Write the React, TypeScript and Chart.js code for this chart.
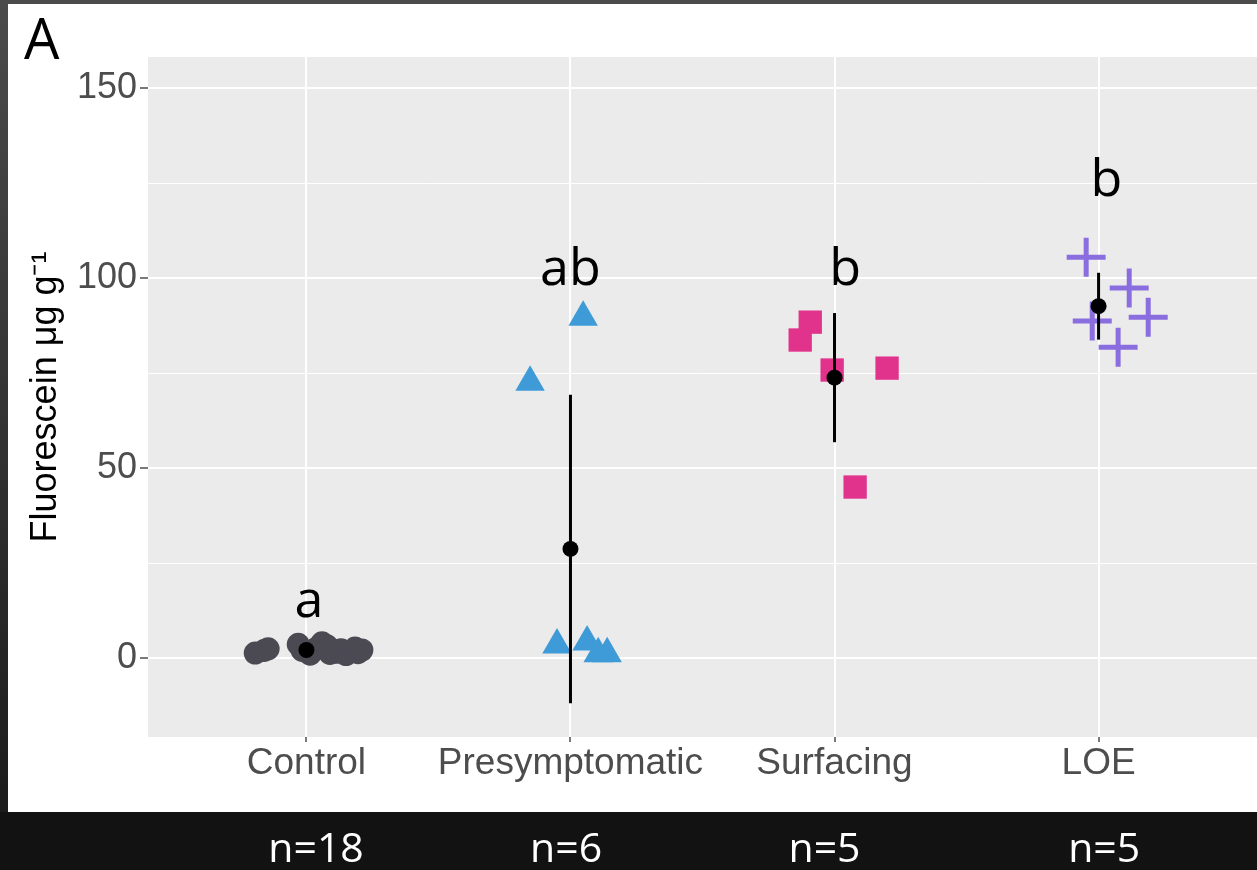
import React, { useEffect, useRef } from "react";
import { Chart, registerables } from "chart.js";

Chart.register(...registerables);

// ---------- DATA ----------
const categories = ["Control", "Presymptomatic", "Surfacing", "LOE"];

// x positions are jittered positions in category units (1..4)
const controlX = [0.806, 0.840, 0.855, 0.969, 0.984, 1.014, 1.036, 1.059, 1.078, 1.089, 1.112, 1.131, 1.150, 1.165, 1.184, 1.195, 1.210, 0.998];
const controlY = [1.3, 2.0, 2.4, 3.6, 2.0, 1.0, 2.5, 4.0, 3.2, 1.2, 1.5, 2.2, 0.9, 1.8, 2.6, 1.4, 2.1, 1.8];

const presymX = [2.048, 1.847, 1.949, 2.063, 2.105, 2.139];
const presymY = [89.7, 72.6, 3.4, 4.2, 1.1, 1.1];

const surfacingX = [2.908, 2.870, 2.991, 3.199, 3.078];
const surfacingY = [88.4, 83.7, 75.8, 76.3, 45.0];

const loeX = [3.953, 4.116, 4.188, 3.976, 4.074];
const loeY = [105.5, 97.4, 89.7, 88.7, 81.8];

const groupMeans = [2.1, 28.7, 73.8, 92.6];
const groupSD = [0.9, 40.6, 17.0, 8.8];

const sigLetters = ["a", "ab", "b", "b"];
const sigLetterX = [1.01, 2.0, 3.04, 4.03];
const sigLetterY = [10.8, 98.2, 98.2, 121.6];

const sampleSizes = ["n=18", "n=6", "n=5", "n=5"];

const yTickValues = [0, 25, 50, 75, 100, 125, 150];
const yMajorTicks = [0, 50, 100, 150];
const xTickValues = [1, 2, 3, 4];

// ---------- STYLE / LAYOUT ----------
const W = 1257;
const H = 870;
const N_LABEL_DX = [9.6, -4.4, -10, 5.6];
const TICK_GRAY = "#4d4d4d";

const toPts = (xs: number[], ys: number[]) => xs.map((x, i) => ({ x, y: ys[i] }));

const framePlugin = {
  id: "frame",
  beforeDraw(chart: any) {
    const { ctx, chartArea } = chart;
    ctx.save();
    ctx.fillStyle = "#121212";
    ctx.fillRect(0, 0, W, H);
    ctx.fillStyle = "#4b4b4b";
    ctx.fillRect(0, 0, W, 4);
    const g = ctx.createLinearGradient(0, 0, 0, 812);
    g.addColorStop(0, "#4b4b4b");
    g.addColorStop(1, "#1c1c1c");
    ctx.fillStyle = g;
    ctx.fillRect(0, 0, 8, 812);
    ctx.fillStyle = "#ffffff";
    ctx.fillRect(8, 4, W - 8, 808);
    ctx.fillStyle = "#ebebeb";
    ctx.fillRect(chartArea.left, chartArea.top, chartArea.right - chartArea.left, chartArea.bottom - chartArea.top);
    ctx.restore();
  },
  afterDatasetsDraw(chart: any) {
    const { ctx, scales } = chart;
    const xs = scales.x;
    const ys = scales.y;
    ctx.save();
    ctx.fillStyle = "#000000";
    ctx.font = "52px 'Open Sans'";
    ctx.textAlign = "center";
    ctx.textBaseline = "alphabetic";
    sigLetters.forEach((t, i) => {
      ctx.fillText(t, xs.getPixelForValue(sigLetterX[i]), ys.getPixelForValue(sigLetterY[i]));
    });
    ctx.restore();
  },
  afterDraw(chart: any) {
    const { ctx, scales } = chart;
    const xs = scales.x;
    ctx.save();
    // panel tag
    ctx.fillStyle = "#000000";
    ctx.font = "56px 'Open Sans'";
    ctx.textAlign = "left";
    ctx.textBaseline = "alphabetic";
    ctx.fillText("A", 24, 59);
    // sample sizes
    ctx.fillStyle = "#ffffff";
    ctx.font = "41px 'Open Sans'";
    ctx.textAlign = "center";
    sampleSizes.forEach((t, i) => {
      ctx.fillText(t, xs.getPixelForValue(xTickValues[i]) + N_LABEL_DX[i], 862);
    });
    ctx.restore();
  },
};

export default function App() {
  const canvasRef = useRef<HTMLCanvasElement | null>(null);

  useEffect(() => {
    const canvas = canvasRef.current;
    if (!canvas) return;

    const errorBarSets = categories.map((c, i) => ({
      type: "line" as const,
      label: "sd " + c,
      data: [
        { x: xTickValues[i], y: groupMeans[i] - groupSD[i] },
        { x: xTickValues[i], y: groupMeans[i] + groupSD[i] },
      ],
      showLine: true,
      borderColor: "#000000",
      borderWidth: 3,
      pointRadius: 0,
      order: 1,
    }));

    const chart = new Chart(canvas, {
      type: "scatter",
      data: {
        datasets: [
          {
            label: "mean",
            data: toPts(xTickValues, groupMeans),
            pointStyle: "circle",
            pointRadius: 8,
            backgroundColor: "#000000",
            borderWidth: 0,
            order: 0,
          },
          ...errorBarSets,
          {
            label: categories[0],
            data: toPts(controlX, controlY),
            pointStyle: "circle",
            pointRadius: 11.5,
            backgroundColor: "#4b4a53",
            borderWidth: 0,
            order: 2,
          },
          {
            label: categories[1],
            data: toPts(presymX, presymY),
            pointStyle: "triangle",
            pointRadius: 17,
            backgroundColor: "#3f9bd8",
            borderWidth: 0,
            order: 2,
          },
          {
            label: categories[2],
            data: toPts(surfacingX, surfacingY),
            pointStyle: "rect",
            pointRadius: 16.5,
            backgroundColor: "#e1338c",
            borderWidth: 0,
            order: 2,
          },
          {
            label: categories[3],
            data: toPts(loeX, loeY),
            pointStyle: "cross",
            pointRadius: 19.5,
            borderColor: "#8a6ee0",
            backgroundColor: "#8a6ee0",
            borderWidth: 5,
            order: 2,
          },
        ] as any,
      },
      options: {
        animation: false,
        responsive: false,
        events: [],
        layout: { autoPadding: false, padding: { left: 8, top: 57, right: 0, bottom: 58 } },
        plugins: {
          legend: { display: false },
          tooltip: { enabled: false },
        },
        scales: {
          x: {
            type: "linear",
            min: 0.4,
            max: 4.6,
            afterBuildTicks: (scale: any) => {
              scale.ticks = xTickValues.map((v) => ({ value: v }));
            },
            afterFit: (scale: any) => {
              scale.height = 75;
              scale.paddingLeft = 0;
              scale.paddingRight = 0;
            },
            border: { display: false },
            grid: {
              color: "#ffffff",
              lineWidth: 2,
              tickLength: 5,
              tickColor: TICK_GRAY,
              tickWidth: 1.5,
            },
            ticks: {
              autoSkip: false,
              maxRotation: 0,
              padding: 0,
              color: TICK_GRAY,
              font: { family: "'Liberation Sans', Arial, sans-serif", size: 37 },
              callback: (v: any) => categories[Number(v) - 1] ?? "",
            },
          },
          y: {
            type: "linear",
            min: -20.8,
            max: 158.2,
            afterBuildTicks: (scale: any) => {
              scale.ticks = yTickValues.map((v) => ({ value: v }));
            },
            afterFit: (scale: any) => {
              scale.width = 140;
              scale.paddingTop = 0;
              scale.paddingBottom = 0;
            },
            border: { display: false },
            grid: {
              color: "#ffffff",
              lineWidth: (ctx: any) => (yMajorTicks.includes(ctx.tick?.value) ? 2 : 1),
              tickLength: 8,
              tickColor: (ctx: any) => (yMajorTicks.includes(ctx.tick?.value) ? TICK_GRAY : "rgba(0,0,0,0)"),
              tickWidth: 1.5,
            },
            ticks: {
              autoSkip: false,
              padding: 3,
              color: TICK_GRAY,
              font: { family: "'Liberation Sans', Arial, sans-serif", size: 36 },
              callback: (v: any) => (yMajorTicks.includes(Number(v)) ? String(v) : ""),
            },
            title: {
              display: true,
              text: "Fluorescein μg g⁻¹",
              color: "#000000",
              font: { family: "'Liberation Sans', Arial, sans-serif", size: 36 },
              padding: { top: 16, bottom: 0 },
            },
          },
        },
      },
      plugins: [framePlugin],
    });

    return () => chart.destroy();
  }, []);

  return (
    <div style={{ position: "absolute", left: 0, top: 0, width: W, height: H, overflow: "hidden" }}>
      <canvas ref={canvasRef} width={W} height={H} style={{ display: "block", width: W, height: H }} />
    </div>
  );
}
